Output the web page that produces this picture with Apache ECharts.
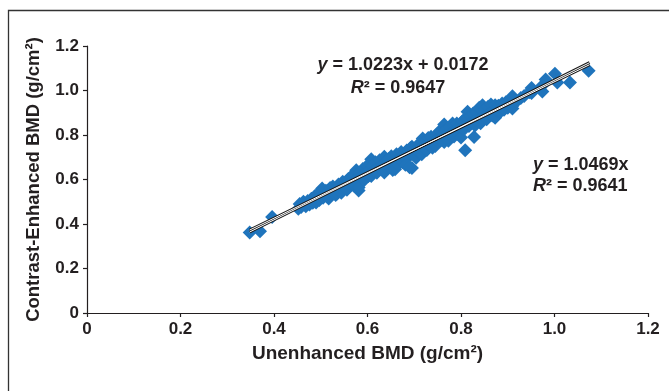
<!DOCTYPE html>
<html><head><meta charset="utf-8">
<script src="https://cdn.jsdelivr.net/npm/echarts@6/dist/echarts.min.js"></script>
<style>html,body{margin:0;padding:0;background:#fff}#c{width:669px;height:391px}</style>
</head><body><div id="c"></div>
<script>
// Axis tick values and labels
const axisTicks = [0, 0.2, 0.4, 0.6, 0.8, 1.0, 1.2];
const axisTickLabels = ['0', '0.2', '0.4', '0.6', '0.8', '1.0', '1.2'];

// Unenhanced BMD (x) vs contrast-enhanced BMD (y), g/cm^2
const bmdPoints = [
[0.348,0.362],[0.370,0.367],[0.396,0.431],
[0.452,0.468],[0.455,0.490],[0.458,0.476],[0.463,0.500],[0.468,0.480],[0.472,0.503],[0.476,0.488],[0.480,0.514],[0.483,0.495],[0.487,0.525],[0.490,0.497],[0.494,0.532],[0.497,0.508],
[0.500,0.550],[0.503,0.560],[0.505,0.518],[0.508,0.535],[0.511,0.550],[0.512,0.541],[0.514,0.523],[0.517,0.515],[0.520,0.562],[0.523,0.540],[0.526,0.568],[0.529,0.550],[0.531,0.556],[0.532,0.530],[0.535,0.537],[0.538,0.577],[0.541,0.558],[0.544,0.541],[0.547,0.590],[0.550,0.566],[0.552,0.583],[0.553,0.575],[0.556,0.554],[0.559,0.602],
[0.562,0.585],[0.565,0.614],[0.568,0.595],[0.571,0.573],[0.572,0.603],[0.574,0.622],[0.576,0.642],[0.578,0.605],[0.581,0.551],[0.581,0.564],[0.584,0.630],[0.587,0.612],[0.590,0.647],[0.591,0.622],[0.593,0.598],[0.596,0.632],[0.599,0.662],
[0.602,0.616],[0.605,0.645],[0.608,0.691],[0.608,0.616],[0.611,0.662],[0.612,0.638],[0.614,0.640],[0.617,0.677],[0.620,0.630],[0.623,0.655],[0.626,0.687],[0.629,0.648],[0.631,0.664],[0.632,0.670],[0.636,0.702],[0.636,0.631],[0.639,0.680],[0.642,0.653],[0.645,0.692],[0.648,0.668],[0.651,0.704],[0.652,0.679],[0.654,0.643],[0.657,0.685],[0.659,0.646],
[0.662,0.714],[0.665,0.668],[0.668,0.695],[0.671,0.703],[0.672,0.724],[0.675,0.678],[0.678,0.705],[0.681,0.666],[0.684,0.730],[0.687,0.700],[0.690,0.655],[0.691,0.720],[0.692,0.742],[0.695,0.652],[0.695,0.747],[0.698,0.713],
[0.701,0.737],[0.704,0.698],[0.707,0.754],[0.710,0.723],[0.711,0.744],[0.713,0.762],[0.716,0.714],[0.718,0.784],[0.721,0.745],[0.724,0.772],[0.727,0.733],[0.730,0.787],[0.731,0.760],[0.733,0.756],[0.736,0.792],[0.739,0.743],[0.742,0.775],[0.745,0.751],[0.748,0.802],[0.751,0.770],[0.752,0.786],[0.754,0.817],[0.757,0.778],
[0.760,0.805],[0.764,0.847],[0.764,0.768],[0.767,0.822],[0.770,0.795],[0.771,0.806],[0.773,0.774],[0.776,0.837],[0.779,0.810],[0.782,0.852],[0.785,0.793],[0.788,0.825],[0.791,0.852],[0.792,0.826],[0.794,0.803],[0.797,0.842],
[0.800,0.789],[0.803,0.862],[0.806,0.825],[0.809,0.731],[0.810,0.846],[0.811,0.877],[0.814,0.904],[0.817,0.840],[0.820,0.887],[0.823,0.860],[0.826,0.897],[0.828,0.791],[0.830,0.843],[0.831,0.868],[0.833,0.902],[0.836,0.875],[0.839,0.922],[0.842,0.853],[0.846,0.934],[0.848,0.890],
[0.851,0.914],[0.852,0.885],[0.855,0.871],[0.858,0.927],[0.861,0.900],[0.864,0.937],[0.867,0.888],[0.870,0.915],[0.873,0.878],[0.873,0.934],[0.877,0.910],[0.880,0.932],[0.884,0.903],[0.888,0.942],[0.890,0.925],[0.892,0.913],[0.896,0.947],
[0.900,0.923],[0.905,0.956],[0.910,0.932],[0.910,0.919],[0.910,0.974],[0.918,0.950],[0.928,0.966],[0.935,0.975],[0.946,0.992],[0.951,1.011],[0.951,0.989],[0.974,0.996],[0.974,1.022],[0.981,1.049],[1.001,1.075],[1.006,1.036],[1.033,1.036],[1.073,1.089]
];

// Trendline end points
const fitLinearX = [0.348, 1.075];
const fitLinearY = [0.373, 1.116];   // y = 1.0223x + 0.0172
const fitOriginX = [0.348, 1.075];
const fitOriginY = [0.364, 1.125];   // y = 1.0469x

const FONT = '"Liberation Sans", Arial, Helvetica, sans-serif';
const INK = '#231f20';

function tickLabel(v) {
  const i = axisTicks.findIndex(t => Math.abs(t - v) < 1e-6);
  return i >= 0 ? axisTickLabels[i] : '';
}
function pairs(xs, ys) { return xs.map((x, i) => [x, ys[i]]); }

const chart = echarts.init(document.getElementById('c'), null, {renderer: 'canvas'});

function axisCommon(name, gap, nameSize) {
  return {
    type: 'value', min: 0, max: 1.2, interval: 0.2,
    splitLine: {show: false},
    axisLine: {show: true, onZero: false, lineStyle: {color: INK, width: 1.2}},
    axisTick: {show: true, inside: false, length: 4, lineStyle: {color: INK, width: 1.2}},
    axisLabel: {formatter: tickLabel, fontSize: 17, fontWeight: 'bold', color: INK, fontFamily: FONT, margin: 8, showMinLabel: true, showMaxLabel: true, hideOverlap: false},
    name: name, nameLocation: 'middle', nameGap: gap,
    nameTextStyle: {fontSize: nameSize, fontWeight: 'bold', color: INK, fontFamily: FONT}
  };
}

const option = {
  backgroundColor: '#fff',
  animation: false,
  grid: {left: 87, right: 21, top: 46, bottom: 78, containLabel: false, outerBoundsMode: 'none'},
  xAxis: axisCommon('Unenhanced BMD (g/cm²)', 31, 19),
  yAxis: axisCommon('Contrast-Enhanced BMD (g/cm²)', 44, 18.5),
  series: [
    {type: 'scatter', data: bmdPoints, symbol: 'diamond', symbolSize: 14,
     itemStyle: {color: '#1f74bc', opacity: 1}, z: 2, silent: true},
    {type: 'line', data: pairs(fitLinearX, fitLinearY), symbol: 'none', lineStyle: {color: '#1a1a1a', width: 3}, z: 3, silent: true},
    {type: 'line', data: pairs(fitOriginX, fitOriginY), symbol: 'none', lineStyle: {color: '#1a1a1a', width: 3}, z: 3, silent: true},
    {type: 'line', data: pairs(fitLinearX, fitLinearY), symbol: 'none', lineStyle: {color: '#ffffff', width: 1}, z: 4, silent: true},
    {type: 'line', data: pairs(fitOriginX, fitOriginY), symbol: 'none', lineStyle: {color: '#ffffff', width: 1}, z: 4, silent: true}
  ],
  graphic: [
    {type: 'rect', shape: {x: 8.5, y: 10.5, width: 700, height: 500}, style: {fill: 'none', stroke: '#333', lineWidth: 1.3}, silent: true},
    {type: 'text', x: 403, y: 65, style: {text: '{i|y} = 1.0223x + 0.0172', align: 'center', verticalAlign: 'middle', fill: INK, font: 'bold 18px ' + FONT,
      rich: {i: {fontStyle: 'italic', fontWeight: 'bold', fontSize: 18, fontFamily: FONT, fill: INK}}}},
    {type: 'text', x: 398, y: 88, style: {text: '{i|R}² = 0.9647', align: 'center', verticalAlign: 'middle', fill: INK, font: 'bold 18px ' + FONT,
      rich: {i: {fontStyle: 'italic', fontWeight: 'bold', fontSize: 18, fontFamily: FONT, fill: INK}}}},
    {type: 'text', x: 533, y: 165, style: {text: '{i|y} = 1.0469x', align: 'left', verticalAlign: 'middle', fill: INK, font: 'bold 18px ' + FONT,
      rich: {i: {fontStyle: 'italic', fontWeight: 'bold', fontSize: 18, fontFamily: FONT, fill: INK}}}},
    {type: 'text', x: 533, y: 186, style: {text: '{i|R}² = 0.9641', align: 'left', verticalAlign: 'middle', fill: INK, font: 'bold 18px ' + FONT,
      rich: {i: {fontStyle: 'italic', fontWeight: 'bold', fontSize: 18, fontFamily: FONT, fill: INK}}}}
  ]
};
chart.setOption(option);
</script>
</body></html>
